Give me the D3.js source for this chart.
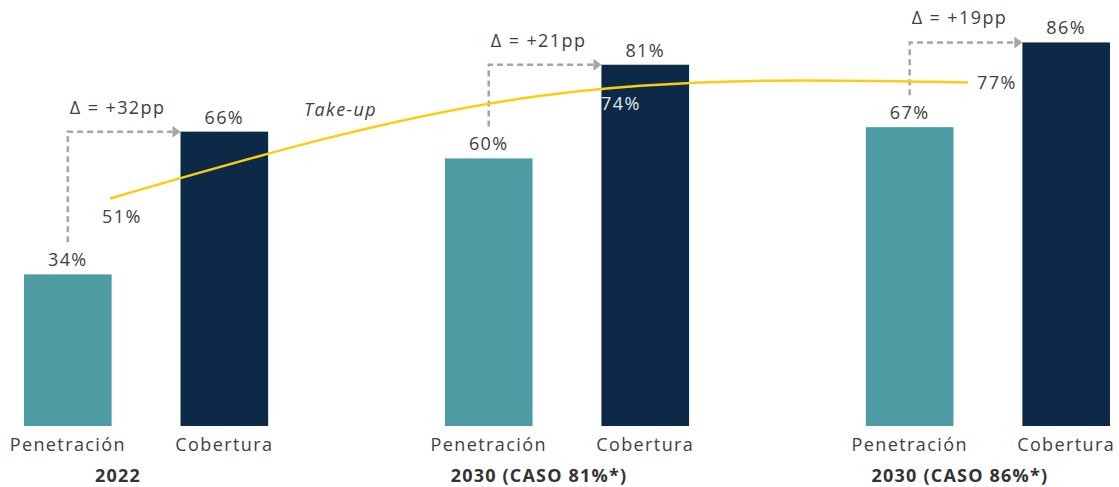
<!DOCTYPE html>
<html>
<head>
<meta charset="utf-8">
<script src="https://cdnjs.cloudflare.com/ajax/libs/d3/7.8.5/d3.min.js"></script>
<style>
  body { margin: 0; background: #ffffff; }
  text { font-family: "Open Sans", sans-serif; fill: #404040; letter-spacing: 1.4px; }
  .bar-label { font-size: 18px; }
  .cat-label { font-size: 18px; }
  .group-label { font-size: 18px; font-weight: bold; fill: #333333; letter-spacing: 1.2px; }
  .delta-line { fill: none; stroke: #a5a5a5; stroke-width: 2.5; stroke-dasharray: 6 4; }
  .takeup { fill: none; stroke: #fccc12; stroke-width: 2.5; }
</style>
</head>
<body>
<script>
//chart data
var groups = ["2022", "2030 (CASO 81%*)", "2030 (CASO 86%*)"];
var series = ["Penetración", "Cobertura"];
var penetracion = [34, 60, 67];
var cobertura = [66, 81, 86];
var takeup = [51, 74, 77];
var deltas = ["+32pp", "+21pp", "+19pp"];

window.onload = drawChart();

function drawChart(){

  var width = 1119,
    height = 487;

  var svg = d3.select("body")
    .append("svg")
    .attr("width", width)
    .attr("height", height);

  //group scale and bar scale inside each group
  var x0 = d3.scaleBand()
    .domain(groups)
    .range([24, 1110])
    .paddingInner(0.42);

  var x1 = d3.scaleBand()
    .domain(series)
    .range([0, x0.bandwidth()])
    .paddingInner(0.44);

  var y = d3.scaleLinear()
    .domain([0, 100])
    .range([426, -20]);

  //take-up line sits on its own point scale
  var xLine = d3.scalePoint()
    .domain(groups)
    .range([110, 968]);

  var colors = d3.scaleOrdinal()
    .domain(series)
    .range(["#4e9ca3", "#0c2a47"]);

  var rows = groups.map(function(g, i){
    return {group: g, values: [penetracion[i], cobertura[i]], takeup: takeup[i], delta: deltas[i]};
  });

  var gGroups = svg.selectAll(".grp")
    .data(rows)
    .enter()
    .append("g")
    .attr("class", "grp")
    .attr("transform", function(d){ return "translate(" + x0(d.group) + ",0)"; });

  //bars
  gGroups.selectAll("rect")
    .data(function(d){ return series.map(function(s, j){ return {name: s, value: d.values[j]}; }); })
    .enter()
    .append("rect")
    .attr("x", function(d){ return x1(d.name); })
    .attr("y", function(d){ return y(d.value); })
    .attr("width", x1.bandwidth())
    .attr("height", function(d){ return y(0) - y(d.value); })
    .attr("fill", function(d){ return colors(d.name); });

  //value labels above bars
  gGroups.selectAll(".bar-label")
    .data(function(d){ return series.map(function(s, j){ return {name: s, value: d.values[j]}; }); })
    .enter()
    .append("text")
    .attr("class", "bar-label")
    .attr("x", function(d){ return x1(d.name) + x1.bandwidth() / 2; })
    .attr("y", function(d){ return y(d.value) - 8; })
    .attr("text-anchor", "middle")
    .text(function(d){ return d.value + "%"; });

  //category labels under bars
  gGroups.selectAll(".cat-label")
    .data(series)
    .enter()
    .append("text")
    .attr("class", "cat-label")
    .attr("x", function(d){ return x1(d) + x1.bandwidth() / 2; })
    .attr("y", 451)
    .attr("text-anchor", "middle")
    .text(function(d){ return d; });

  //group labels
  gGroups.append("text")
    .attr("class", "group-label")
    .attr("x", x0.bandwidth() / 2 - 28)
    .attr("y", 482)
    .attr("text-anchor", "middle")
    .text(function(d){ return d.group; });

  //delta arrows: dashed up from penetration label, across to cobertura bar
  gGroups.each(function(d){
    var g = d3.select(this);
    var xs = x1("Penetración") + x1.bandwidth() / 2;
    var xe = x1("Cobertura") - 8;
    var yTop = y(d.values[1]);
    var yBot = y(d.values[0]) - 32;
    g.append("path")
      .attr("class", "delta-line")
      .attr("d", "M" + xs + "," + yBot + "V" + yTop + "H" + xe);
    g.append("path")
      .attr("d", "M" + xe + "," + (yTop - 6) + "L" + (xe + 8) + "," + yTop + "L" + xe + "," + (yTop + 6) + "Z")
      .attr("fill", "#a5a5a5");
    g.append("text")
      .attr("class", "bar-label")
      .attr("x", xs + 2)
      .attr("y", yTop - 18)
      .text("\u0394 = " + d.delta);
  });

  //take-up curve
  var line = d3.line()
    .x(function(d){ return xLine(d.group); })
    .y(function(d){ return y(d.takeup); })
    .curve(d3.curveNatural);

  svg.append("path")
    .datum(rows)
    .attr("class", "takeup")
    .attr("d", line);

  //take-up labels
  var tl = [
    {dx: -8, dy: 24, fill: "#404040"},
    {dx: 62, dy: 14, fill: "#e6e6e6"},
    {dx: 9, dy: 6, fill: "#404040"}
  ];
  svg.selectAll(".tk-label")
    .data(rows)
    .enter()
    .append("text")
    .attr("class", "bar-label")
    .attr("x", function(d, i){ return xLine(d.group) + tl[i].dx; })
    .attr("y", function(d, i){ return y(d.takeup) + tl[i].dy; })
    .style("fill", function(d, i){ return tl[i].fill; })
    .text(function(d){ return d.takeup + "%"; });

  svg.append("text")
    .attr("class", "bar-label")
    .attr("x", 304)
    .attr("y", 116)
    .style("font-style", "italic")
    .text("Take-up");
}
</script>
</body>
</html>
